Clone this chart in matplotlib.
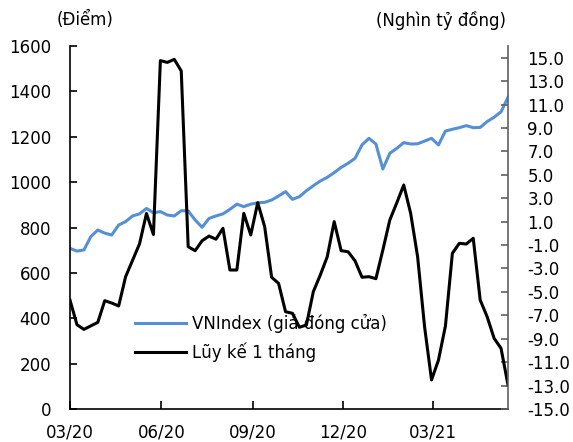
import numpy as np
import pandas as pd
import matplotlib
matplotlib.use("Agg")
import matplotlib.pyplot as plt
import matplotlib.dates as mdates

plt.rcParams['font.family'] = ['DejaVu Sans']

# weekly observations
dates = pd.date_range('2020-03-01', periods=64, freq='7D')

vnindex = [708, 696, 701, 760, 789, 775, 767, 811, 826, 851,
           860, 884, 865, 870, 855, 851, 874, 873, 833, 801,
           840, 851, 860, 880, 903, 892, 903, 909, 911, 921,
           939, 958, 924, 936, 962, 984, 1005, 1021, 1042, 1065,
           1083, 1105, 1164, 1193, 1168, 1058, 1127, 1149, 1174, 1168,
           1169, 1181, 1193, 1164, 1225, 1233, 1240, 1249, 1240, 1241,
           1267, 1286, 1310, 1374]

luy_ke = [-5.7, -7.8, -8.2, -7.9, -7.6, -5.75, -5.95, -6.2, -3.7, -2.3,
          -0.9, 1.7, -0.1, 14.75, 14.6, 14.86, 13.87, -1.14, -1.48, -0.63,
          -0.23, -0.5, 0.43, -3.13, -3.13, 1.71, -0.14, 2.62, 0.57, -3.75,
          -4.27, -6.69, -6.83, -8.02, -7.83, -4.98, -3.56, -2.0, 1.0, -1.48,
          -1.57, -2.35, -3.75, -3.70, -3.87, -1.42, 1.14, 2.6, 4.13, 1.71,
          -2.0, -7.97, -12.52, -10.82, -7.91, -1.70, -0.85, -0.91, -0.42, -5.69,
          -7.12, -8.96, -9.82, -12.95]

left_ticks = np.arange(0, 1601, 200)
right_ticks = np.arange(-15, 15.1, 2)

fig = plt.figure(figsize=(5.73, 4.42), dpi=100)
ax = fig.add_axes([70 / 573, 1 - 409 / 442, 438 / 573, 363 / 442])
ax2 = ax.twinx()

l1, = ax.plot(dates, vnindex, color='#5590D5', lw=2.2,
              label='VNIndex (giá đóng cửa)')
l2, = ax2.plot(dates, luy_ke, color='black', lw=2.2,
               label='Lũy kế 1 tháng')

ax.set_xlim(dates[0], dates[-1])
ax.set_ylim(0, 1600)
ax.set_yticks(left_ticks)
ax2.set_ylim(-15, 16)
ax2.set_yticks(right_ticks)
ax2.set_yticklabels(['%.1f' % v for v in right_ticks])

ax.xaxis.set_major_locator(mdates.MonthLocator(bymonth=[3, 6, 9, 12]))
ax.xaxis.set_major_formatter(mdates.DateFormatter('%m/%y'))

for a in (ax, ax2):
    a.spines['top'].set_visible(False)
    a.spines['left'].set_linewidth(1.2)
    a.spines['bottom'].set_linewidth(1.2)
    a.spines['right'].set_linewidth(1.2)
ax.spines['right'].set_visible(False)
ax2.spines['left'].set_visible(False)
ax2.spines['bottom'].set_visible(False)
ax2.spines['right'].set_color('#606060')

ax.tick_params(axis='y', direction='in', length=5, width=1.2, pad=13.5, labelsize=12)
ax.tick_params(axis='x', direction='in', length=5.5, width=1.2, pad=10.5, labelsize=12)
ax2.tick_params(axis='y', direction='in', length=5, width=1.2, pad=14,
                labelsize=12, color='#606060')

fig.text(85 / 573, 1 - 20 / 442, '(Điểm)', ha='center', va='center', fontsize=12)
fig.text(441 / 573, 1 - 20 / 442, '(Nghìn tỷ đồng)', ha='center', va='center', fontsize=12)

ax2.legend(handles=[l1, l2], loc='lower left', bbox_to_anchor=(0.148, 0.13),
           frameon=False, fontsize=12, borderpad=0, borderaxespad=0,
           handlelength=3.1, handletextpad=0.35, labelspacing=0.55)

fig.savefig('out.png', dpi=100)
